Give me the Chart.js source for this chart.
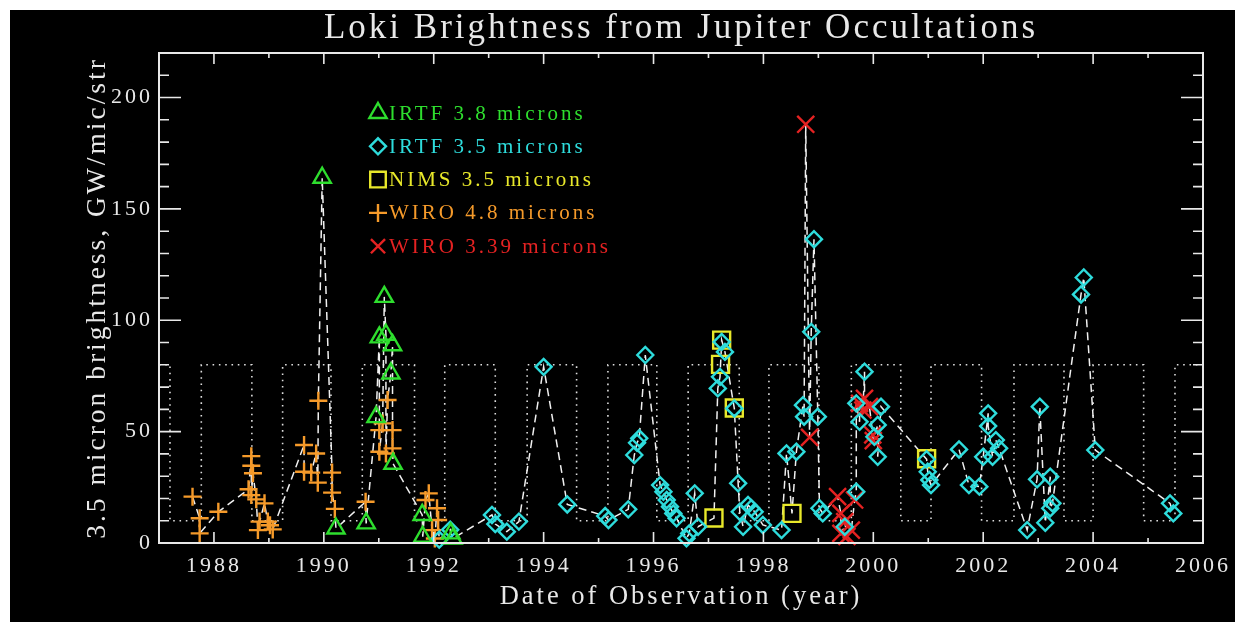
<!DOCTYPE html>
<html>
<head>
<meta charset="utf-8">
<title>Loki Brightness</title>
<script src="https://cdn.jsdelivr.net/npm/chart.js@4.4.1/dist/chart.umd.min.js"></script>
<style>
  html, body { margin: 0; padding: 0; background: #fff; overflow: hidden; }
  #wrap { position: absolute; left: 10px; top: 10px; right: 0; bottom: 0; background: #000; }
  canvas { display: block; }
</style>
</head>
<body>
<div id="wrap"><canvas id="loki" width="1225" height="612"></canvas></div>
<script>
// ------------------- Data ------------------- //

// IRTF 3.8 microns (triangles)
const irtf38Year = [1989.97, 1990.22, 1990.77, 1990.95, 1991.01, 1991.10, 1991.13, 1991.22, 1991.25, 1991.26, 1991.79, 1991.80, 1992.31, 1992.35];
const irtf38Val  = [164, 6.5, 8.8, 56.5, 92.3, 110.5, 93.5, 76.1, 88.8, 35.6, 12.6, 2.8, 4.3, 2.0];

// IRTF 3.5 microns (diamonds)
const irtf35Year = [1992.10, 1992.30, 1993.06, 1993.12, 1993.33, 1993.55, 1994.00, 1994.43, 1995.12, 1995.18,
  1995.54, 1995.65, 1995.70, 1995.74, 1995.85, 1996.12, 1996.18, 1996.24, 1996.30, 1996.36,
  1996.42, 1996.60, 1996.65, 1996.75, 1996.81, 1997.17, 1997.21, 1997.24, 1997.30, 1997.47,
  1997.54, 1997.57, 1997.63, 1997.72, 1997.78, 1997.84, 1997.99, 1998.33, 1998.42, 1998.60,
  1998.72, 1998.74, 1998.87, 1998.92, 1998.99, 1999.02, 1999.08, 1999.48, 1999.69, 1999.69,
  1999.75, 1999.84, 2000.02, 2000.08, 2000.08, 2000.14, 2000.97, 2000.99, 2001.02, 2001.05,
  2001.56, 2001.74, 2001.93, 2002.00, 2002.09, 2002.09, 2002.17, 2002.23, 2002.29, 2002.80,
  2002.98, 2003.03, 2003.13, 2003.22, 2003.22, 2003.26, 2003.78, 2003.83, 2004.04, 2005.40, 2005.46];
const irtf35Val  = [1.5, 6.0, 12.6, 8.5, 5.1, 9.6, 79.1, 17.3, 12.1, 10.3,
  15.1, 39.5, 45.0, 47.0, 84.4, 26.0, 23.0, 19.3, 16.3, 13.3,
  11.1, 2.1, 4.3, 22.3, 7.3, 69.4, 74.6, 90.3, 85.8, 60.4,
  26.8, 14.0, 7.3, 17.1, 15.6, 14.0, 8.1, 5.8, 40.2, 41.0,
  61.9, 56.7, 94.8, 136.4, 56.7, 15.6, 13.3, 7.3, 23.0, 62.7,
  54.4, 76.9, 47.7, 53.0, 38.7, 61.2, 37.6, 32.0, 28.3, 26.0,
  42.0, 26.0, 25.3, 38.7, 58.2, 52.5, 38.7, 46.2, 42.5, 5.8,
  28.6, 61.2, 9.1, 29.8, 15.6, 17.8, 111.6, 119.2, 41.7, 17.8, 13.3];

// NIMS 3.5 microns (squares)
const nimsYear = [1997.10, 1997.22, 1997.24, 1997.47, 1998.52, 2000.97];
const nimsVal  = [11.2, 80.2, 91.1, 60.6, 13.3, 37.8];

// WIRO 4.8 microns (plus signs)
const wiro48Year = [1987.61, 1987.74, 1987.74, 1988.08, 1988.63, 1988.68, 1988.68, 1988.68, 1988.71, 1988.77,
  1988.80, 1988.83, 1988.92, 1988.98, 1989.02, 1989.07, 1989.64, 1989.64, 1989.77, 1989.86,
  1989.89, 1989.90, 1990.15, 1990.15, 1990.20, 1990.76, 1991.01, 1991.01, 1991.07, 1991.13,
  1991.16, 1991.25, 1991.25, 1991.85, 1991.91, 1991.97, 1992.02, 1992.06, 1992.08];
const wiro48Val  = [20.8, 11.1, 4.3, 14.0, 24.1, 39.0, 34.7, 21.5, 31.3, 19.6,
  5.8, 9.6, 17.8, 9.6, 8.0, 6.1, 44.0, 32.0, 31.6, 40.2,
  27.1, 63.9, 31.6, 22.6, 15.3, 18.5, 50.7, 41.0, 53.7, 40.2,
  64.2, 50.7, 42.5, 19.3, 22.3, 5.8, 2.0, 15.6, 10.3];

// WIRO 3.39 microns (crosses)
const wiro339Year = [1998.77, 1998.84, 1999.35, 1999.41, 1999.41, 1999.48, 1999.52, 1999.60, 1999.66,
  1999.75, 1999.81, 1999.84, 1999.93, 1999.99, 2000.00];
const wiro339Val  = [188, 47.4, 20.8, 13.3, 4.3, 9.6, 3.0, 5.8, 19.3,
  62.7, 59.7, 64.9, 61.2, 48.5, 46.0];

// dotted on/off pattern: level switches at these dates, starting high
const seasonEdges = [1987.20, 1987.77, 1988.69, 1989.25, 1990.13, 1990.70, 1991.65, 1992.20, 1993.12, 1993.70,
  1994.60, 1995.17, 1996.06, 1996.63, 1997.56, 1998.10, 1999.01, 1999.60, 2000.50, 2001.05,
  2001.97, 2002.56, 2003.47, 2004.00, 2004.92, 2005.49];
const seasonHigh = 80;
const seasonLow = 10;

// axis ranges and labels
const xRange = [1987, 2006];
const yRange = [0, 220];
const xLabelEvery = 2;
const yLabelEvery = 50;

// ------------------- Helpers ------------------- //

function toPoints(xs, ys) {
  return xs.map((x, i) => ({ x: x, y: ys[i] }));
}

// every observation in time order, for the dashed connecting line
function buildTrack() {
  const pts = []
    .concat(toPoints(irtf38Year, irtf38Val))
    .concat(toPoints(irtf35Year, irtf35Val))
    .concat(toPoints(nimsYear, nimsVal))
    .concat(toPoints(wiro48Year, wiro48Val))
    .concat(toPoints(wiro339Year, wiro339Val));
  pts.sort((a, b) => a.x - b.x);
  return pts;
}

function buildSeasons() {
  let level = seasonHigh;
  const pts = [{ x: xRange[0], y: level }];
  seasonEdges.forEach(e => {
    level = level === seasonHigh ? seasonLow : seasonHigh;
    pts.push({ x: e, y: level });
  });
  pts.push({ x: xRange[1], y: level });
  return pts;
}

const TEXT = "#e8e8e8";
const FONT = "'Liberation Serif', 'DejaVu Serif', serif";

function markerSet(label, xs, ys, color, style, radius) {
  return {
    label: label,
    data: toPoints(xs, ys),
    showLine: false,
    pointStyle: style,
    pointRadius: radius,
    pointBorderWidth: 2.4,
    pointBorderColor: color,
    pointBackgroundColor: "rgba(0,0,0,0)",
    borderColor: color,
    clip: false,
  };
}

const markerSets = [
  markerSet("IRTF 3.8 microns", irtf38Year, irtf38Val, "#2ede2e", "triangle", 10),
  markerSet("IRTF 3.5 microns", irtf35Year, irtf35Val, "#2edcdc", "rectRot", 8),
  markerSet("NIMS 3.5 microns", nimsYear, nimsVal, "#e8e82a", "rect", 12),
  markerSet("WIRO 4.8 microns", wiro48Year, wiro48Val, "#f59a2a", "cross", 9),
  markerSet("WIRO 3.39 microns", wiro339Year, wiro339Val, "#e52222", "crossRot", 12),
];

// ------------------- Plugins ------------------- //

// wider letter spacing, closer to the plotting font of the original
const spacingPlugin = {
  id: "spacing",
  beforeDraw(chart) {
    chart.ctx.letterSpacing = "3px";
  },
};

// box frame with inward ticks on all four sides
const framePlugin = {
  id: "frame",
  afterDatasetsDraw(chart) {
    const { ctx, chartArea: a, scales } = chart;
    ctx.save();
    ctx.strokeStyle = TEXT;
    ctx.lineWidth = 2;
    ctx.strokeRect(a.left, a.top, a.right - a.left, a.bottom - a.top);
    ctx.lineWidth = 1.6;
    ctx.beginPath();
    scales.x.ticks.forEach(t => {
      if (t.value <= xRange[0] || t.value >= xRange[1]) return;
      const px = scales.x.getPixelForValue(t.value);
      const len = t.value % xLabelEvery === 0 ? 11 : 5;
      ctx.moveTo(px, a.bottom); ctx.lineTo(px, a.bottom - len);
      ctx.moveTo(px, a.top); ctx.lineTo(px, a.top + len);
    });
    scales.y.ticks.forEach(t => {
      if (t.value <= yRange[0] || t.value >= yRange[1]) return;
      const py = scales.y.getPixelForValue(t.value);
      const len = t.value % yLabelEvery === 0 ? 22 : 10;
      ctx.moveTo(a.left, py); ctx.lineTo(a.left + len, py);
      ctx.moveTo(a.right, py); ctx.lineTo(a.right - len, py);
    });
    ctx.stroke();
    ctx.restore();
  },
};

// legend inside the plot, text coloured like its symbol
const legendPlugin = {
  id: "insideLegend",
  afterDraw(chart) {
    const { ctx, chartArea: a } = chart;
    const x0 = a.left + 219;
    const y0 = a.top + 60;
    const rowH = 33.3;
    ctx.save();
    ctx.font = "21px " + FONT;
    ctx.textBaseline = "middle";
    ctx.textAlign = "left";
    markerSets.forEach((ds, i) => {
      const y = y0 + i * rowH;
      ctx.strokeStyle = ds.pointBorderColor;
      ctx.fillStyle = "rgba(0,0,0,0)";
      ctx.lineWidth = 2.4;
      const r = ds.pointStyle === "rect" ? 11 : ds.pointStyle === "crossRot" ? 10 : ds.pointRadius;
      Chart.helpers.drawPoint(ctx, { pointStyle: ds.pointStyle, radius: r, rotation: 0, borderWidth: 2.4 }, x0, y);
      ctx.fillStyle = ds.pointBorderColor;
      ctx.fillText(ds.label, x0 + 11, y + 1);
    });
    ctx.restore();
  },
};

// ------------------- Chart ------------------- //

const ctx = document.getElementById("loki").getContext("2d");

new Chart(ctx, {
  type: "scatter",
  data: {
    datasets: markerSets.concat([
      {
        label: "track",
        data: buildTrack(),
        showLine: true,
        pointRadius: 0,
        borderColor: "#f0f0f0",
        borderWidth: 1.5,
        borderDash: [8, 5],
      },
      {
        label: "seasons",
        data: buildSeasons(),
        showLine: true,
        stepped: true,
        pointRadius: 0,
        borderColor: "#dddddd",
        borderWidth: 1.6,
        borderDash: [1.6, 4.7],
      },
    ]),
  },
  options: {
    responsive: false,
    animation: false,
    devicePixelRatio: 1,
    layout: { padding: { left: 0, right: 29, top: 0, bottom: 0 } },
    plugins: {
      legend: { display: false },
      tooltip: { enabled: false },
      title: {
        display: true,
        text: "Loki Brightness from Jupiter Occultations",
        color: TEXT,
        fullSize: false,
        font: { family: FONT, size: 35, weight: "normal", lineHeight: 1.0 },
        padding: { top: 1, bottom: 7 },
      },
    },
    scales: {
      x: {
        type: "linear",
        min: xRange[0],
        max: xRange[1],
        grid: { display: false, drawTicks: false },
        border: { display: false },
        afterFit(scale) { scale.height = 79; },
        ticks: {
          stepSize: 1,
          autoSkip: false,
          maxRotation: 0,
          padding: 10,
          color: TEXT,
          font: { family: FONT, size: 22 },
          callback: v => (v % xLabelEvery === 0 ? String(v) : ""),
        },
        title: {
          display: true,
          text: "Date of Observation (year)",
          color: TEXT,
          font: { family: FONT, size: 26.5 },
          padding: { top: 0, bottom: 9 },
        },
      },
      y: {
        type: "linear",
        min: yRange[0],
        max: yRange[1],
        grid: { display: false, drawTicks: false },
        border: { display: false },
        afterFit(scale) { scale.width = 149; },
        ticks: {
          stepSize: 10,
          autoSkip: false,
          padding: 6,
          color: TEXT,
          font: { family: FONT, size: 22 },
          callback: v => (v % yLabelEvery === 0 && v < yRange[1] ? String(v) : ""),
        },
        title: {
          display: true,
          text: "3.5 micron brightness, GW/mic/str",
          color: TEXT,
          font: { family: FONT, size: 27.5 },
          padding: { top: 71, bottom: 0 },
        },
      },
    },
  },
  plugins: [spacingPlugin, framePlugin, legendPlugin],
});
</script>
</body>
</html>
